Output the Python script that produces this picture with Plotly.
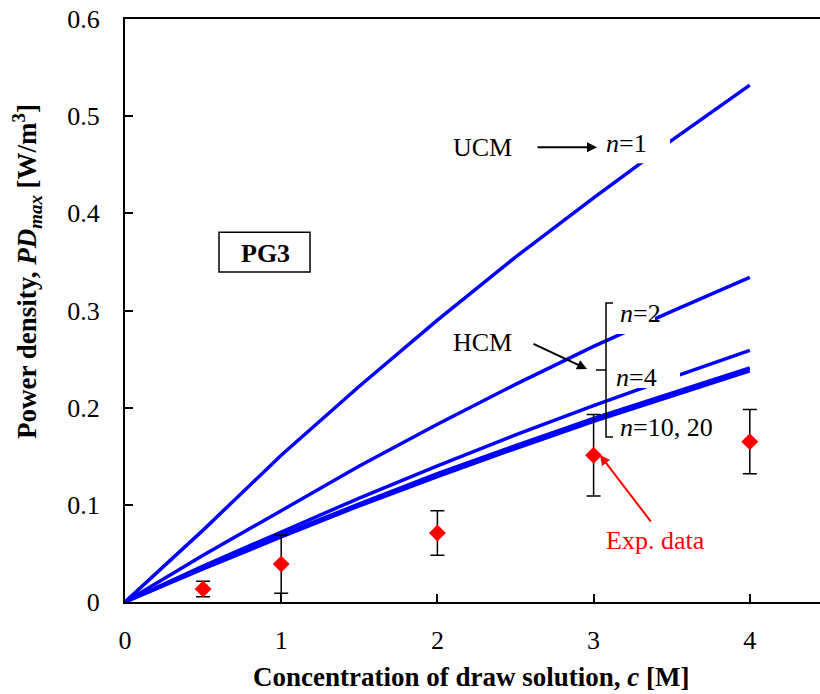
import plotly.graph_objects as go

# ---------------- data ----------------
c_model = [0, 0.5, 1, 1.5, 2, 2.5, 3, 3.5, 4]
pd_n1 = [0, 0.074, 0.151, 0.222, 0.290, 0.355, 0.416, 0.475, 0.532]
pd_n2 = [0, 0.048, 0.094, 0.140, 0.183, 0.224, 0.263, 0.299, 0.334]
pd_n4 = [0, 0.037, 0.072, 0.107, 0.140, 0.172, 0.202, 0.231, 0.259]
pd_n10 = [0, 0.035, 0.069, 0.101, 0.132, 0.161, 0.189, 0.215, 0.241]
pd_n20 = [0, 0.034, 0.067, 0.099, 0.129, 0.158, 0.186, 0.212, 0.238]

c_exp = [0.5, 1, 2, 3, 4]
pd_exp = [0.0134, 0.039, 0.071, 0.151, 0.165]
pd_exp_err = [0.008, 0.030, 0.023, 0.042, 0.033]

x_ticks = [0, 1, 2, 3, 4]
y_ticks = [0, 0.1, 0.2, 0.3, 0.4, 0.5, 0.6]

FONT = "Liberation Serif"
BLUE = "#0000FF"

fig = go.Figure()
for name, ys in [("n=1", pd_n1), ("n=2", pd_n2), ("n=4", pd_n4),
                 ("n=10", pd_n10), ("n=20", pd_n20)]:
    fig.add_trace(go.Scatter(x=c_model, y=ys, mode="lines", name=name,
                             line=dict(color=BLUE, width=3.5), showlegend=False))

fig.add_trace(go.Scatter(
    x=c_exp, y=pd_exp, mode="markers", name="Exp. data", showlegend=False,
    marker=dict(symbol="diamond", color="#FF0000", size=13),
    error_y=dict(type="data", array=pd_exp_err, visible=True,
                 color="black", thickness=1.5, width=7)))

# pixel -> data helpers for decorations
X0, XS = 125.0, 156.2
Y0, YS = 602.0, 972.0
def dx(px): return (px - X0) / XS
def dy(py): return (Y0 - py) / YS

shapes = [
    # white boxes behind labels (cut lines)
    dict(type="rect", xref="x", yref="y", x0=dx(600), x1=dx(670), y0=dy(163), y1=dy(122),
         fillcolor="white", line=dict(width=0), layer="above"),
    dict(type="rect", xref="x", yref="y", x0=dx(614), x1=dx(655), y0=dy(334), y1=dy(296),
         fillcolor="white", line=dict(width=0), layer="above"),
    dict(type="rect", xref="x", yref="y", x0=dx(612), x1=dx(680), y0=dy(388), y1=dy(362),
         fillcolor="white", line=dict(width=0), layer="above"),
    # bracket
    dict(type="path", xref="x", yref="y",
         path=(f"M {dx(613)},{dy(303)} L {dx(606)},{dy(303)} L {dx(606)},{dy(437)} L {dx(613)},{dy(437)} "
               f"M {dx(606)},{dy(370)} L {dx(596)},{dy(370)}"),
         line=dict(color="black", width=1.5), layer="above"),
    # PG3 box
    dict(type="rect", xref="x", yref="y", x0=dx(219), x1=dx(310), y0=dy(272), y1=dy(232),
         fillcolor="white", line=dict(color="black", width=1.5), layer="above"),
]

tf = dict(family=FONT, size=26, color="black")
annotations = [
    dict(x=dx(482), y=dy(147), xref="x", yref="y", text="UCM", showarrow=False, font=tf),
    dict(x=dx(597), y=dy(147), xref="x", yref="y", ax=dx(536), ay=dy(147), axref="x", ayref="y",
         text="", showarrow=True, arrowhead=2, arrowsize=1, arrowwidth=2, arrowcolor="black"),
    dict(x=dx(604), y=dy(143), xref="x", yref="y", xanchor="left", text="<i>n</i>=1",
         showarrow=False, font=tf),
    dict(x=dx(482), y=dy(342), xref="x", yref="y", text="HCM", showarrow=False, font=tf),
    dict(x=dx(587), y=dy(369), xref="x", yref="y", ax=dx(532), ay=dy(343), axref="x", ayref="y",
         text="", showarrow=True, arrowhead=2, arrowsize=1, arrowwidth=2, arrowcolor="black"),
    dict(x=dx(618), y=dy(313), xref="x", yref="y", xanchor="left", text="<i>n</i>=2",
         showarrow=False, font=tf),
    dict(x=dx(614), y=dy(377), xref="x", yref="y", xanchor="left", text="<i>n</i>=4",
         showarrow=False, font=tf),
    dict(x=dx(618), y=dy(427), xref="x", yref="y", xanchor="left", text="<i>n</i>=10, 20",
         showarrow=False, font=tf),
    dict(x=dx(265), y=dy(253), xref="x", yref="y", text="<b>PG3</b>", showarrow=False, font=tf),
    dict(x=dx(655), y=dy(540), xref="x", yref="y", text="Exp. data", showarrow=False,
         font=dict(family=FONT, size=26, color="#FF0000")),
    dict(x=dx(600), y=dy(455), xref="x", yref="y", ax=dx(652), ay=dy(523), axref="x", ayref="y",
         text="", showarrow=True, arrowhead=2, arrowsize=1, arrowwidth=2, arrowcolor="#FF0000"),
    # axis titles
    dict(x=(471 - 125) / 695, y=-(677 - 602) / 583, xref="paper", yref="paper",
         text="<b>Concentration of draw solution, <i>c</i> [M]</b>", showarrow=False,
         font=dict(family=FONT, size=27, color="black"), yanchor="middle"),
    dict(x=-(125 - 27) / 695, y=(602 - 272) / 583, xref="paper", yref="paper", textangle=-90,
         text="<b>Power density, <i>PD<sub>max</sub></i> [W/m<sup>3</sup>]</b>", showarrow=False,
         font=dict(family=FONT, size=27, color="black"), xanchor="center", yanchor="middle"),
]

fig.update_layout(
    width=820, height=694,
    margin=dict(l=125, r=0, t=19, b=92),
    paper_bgcolor="white", plot_bgcolor="white",
    font=dict(family=FONT, size=26, color="black"),
    shapes=shapes, annotations=annotations,
    xaxis=dict(range=[0, (820 - 125) / 156.2], tickvals=x_ticks, ticktext=[str(v) for v in x_ticks],
               showgrid=False, zeroline=False, showline=True, linecolor="black", linewidth=2,
               mirror=True, ticks="inside", ticklen=8, tickwidth=1.5, tickcolor="black",
               ticklabelstandoff=14, tickfont=dict(family=FONT, size=26)),
    yaxis=dict(range=[0, 0.6], tickvals=y_ticks, ticktext=[f"{v:g}" for v in y_ticks],
               showgrid=False, zeroline=False, showline=True, linecolor="black", linewidth=2,
               ticks="inside", ticklen=8, tickwidth=1.5, tickcolor="black",
               ticklabelstandoff=18, tickfont=dict(family=FONT, size=26)),
)

fig.write_html("out.html")
